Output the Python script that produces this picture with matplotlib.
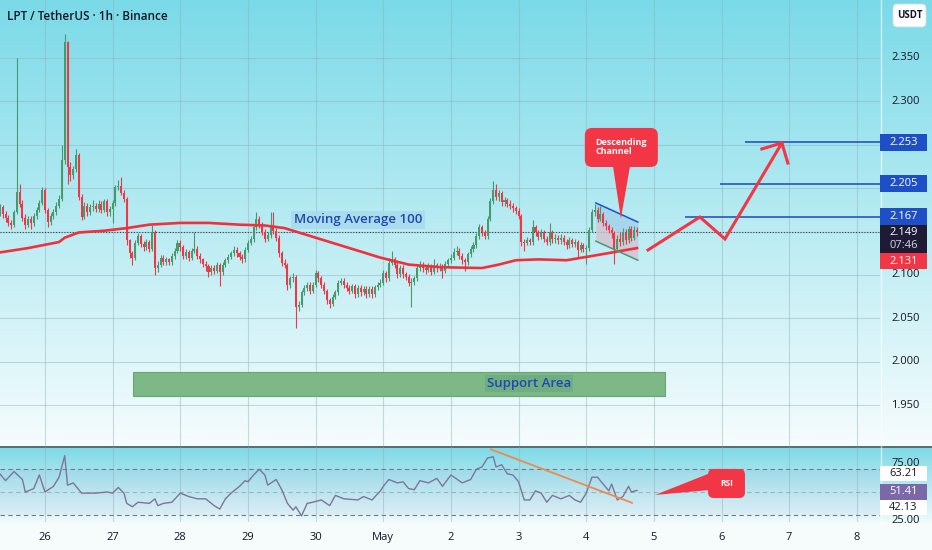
import numpy as np
import matplotlib.pyplot as plt
from matplotlib.patches import Rectangle, FancyBboxPatch, Polygon

plt.rcParams['font.family'] = ['Open Sans', 'DejaVu Sans']

# ---------- DATA (hourly candles, hour 0 = 25 Apr 08:00) ----------
first_open = 2.172
closes = [
    2.178, 2.170, 2.166, 2.160, 2.158, 2.172, 2.196, 2.182, 2.166, 2.158,
    2.165, 2.160, 2.168, 2.175, 2.183, 2.198, 2.175, 2.161, 2.168, 2.172,
    2.180, 2.188, 2.232, 2.368, 2.224, 2.215, 2.222, 2.238, 2.190, 2.167,
    2.180, 2.172, 2.178, 2.180, 2.176, 2.182, 2.175, 2.185, 2.172, 2.176,
    2.183, 2.201, 2.203, 2.195, 2.188, 2.140, 2.125, 2.120, 2.137, 2.145,
    2.136, 2.132, 2.138, 2.130, 2.150, 2.108, 2.112, 2.120, 2.115, 2.118,
    2.115, 2.122, 2.128, 2.137, 2.132, 2.122, 2.127, 2.120, 2.128, 2.130,
    2.122, 2.118, 2.113, 2.110, 2.103, 2.108, 2.105, 2.112, 2.103, 2.112,
    2.117, 2.121, 2.125, 2.129, 2.125, 2.121, 2.118, 2.129, 2.137, 2.141,
    2.155, 2.165, 2.158, 2.150, 2.142, 2.146, 2.158, 2.151, 2.143, 2.125,
    2.114, 2.112, 2.088, 2.096, 2.098, 2.063, 2.066, 2.080, 2.085, 2.089,
    2.082, 2.089, 2.102, 2.096, 2.089, 2.082, 2.071, 2.067, 2.075, 2.080,
    2.091, 2.093, 2.089, 2.085, 2.082, 2.087, 2.078, 2.085, 2.080, 2.084,
    2.078, 2.084, 2.078, 2.086, 2.089, 2.091, 2.102, 2.096, 2.114, 2.118,
    2.112, 2.101, 2.108, 2.101, 2.098, 2.091, 2.092, 2.096, 2.108, 2.112,
    2.108, 2.106, 2.110, 2.104, 2.111, 2.108, 2.110, 2.105, 2.113, 2.117,
    2.120, 2.127, 2.128, 2.122, 2.117, 2.115, 2.124, 2.130, 2.134, 2.145,
    2.155, 2.149, 2.145, 2.165, 2.185, 2.198, 2.190, 2.194, 2.184, 2.186,
    2.182, 2.180, 2.177, 2.174, 2.168, 2.138, 2.137, 2.140, 2.138, 2.155,
    2.149, 2.144, 2.149, 2.142, 2.138, 2.150, 2.141, 2.143, 2.140, 2.143,
    2.138, 2.134, 2.140, 2.136, 2.138, 2.129, 2.134, 2.130, 2.131, 2.152,
    2.172, 2.175, 2.165, 2.170, 2.160, 2.156, 2.152, 2.148, 2.130, 2.142,
    2.138, 2.150, 2.140, 2.153, 2.143, 2.152, 2.149,
]
highs = [
    2.182, 2.181, 2.174, 2.169, 2.163, 2.175, 2.350, 2.205, 2.186, 2.170,
    2.168, 2.168, 2.171, 2.178, 2.186, 2.201, 2.200, 2.177, 2.171, 2.176,
    2.184, 2.192, 2.250, 2.378, 2.370, 2.230, 2.226, 2.245, 2.240, 2.193,
    2.184, 2.183, 2.182, 2.186, 2.183, 2.186, 2.185, 2.188, 2.187, 2.180,
    2.186, 2.204, 2.210, 2.213, 2.198, 2.190, 2.142, 2.128, 2.140, 2.148,
    2.147, 2.139, 2.141, 2.140, 2.158, 2.152, 2.116, 2.123, 2.123, 2.121,
    2.120, 2.125, 2.131, 2.140, 2.140, 2.134, 2.130, 2.129, 2.131, 2.150,
    2.133, 2.125, 2.120, 2.116, 2.113, 2.111, 2.111, 2.115, 2.114, 2.115,
    2.120, 2.124, 2.128, 2.133, 2.132, 2.128, 2.124, 2.132, 2.140, 2.145,
    2.158, 2.172, 2.168, 2.161, 2.153, 2.150, 2.172, 2.172, 2.154, 2.146,
    2.128, 2.118, 2.114, 2.099, 2.102, 2.100, 2.070, 2.083, 2.088, 2.092,
    2.092, 2.092, 2.106, 2.105, 2.099, 2.092, 2.084, 2.074, 2.078, 2.083,
    2.094, 2.097, 2.096, 2.092, 2.088, 2.090, 2.090, 2.088, 2.088, 2.087,
    2.087, 2.087, 2.087, 2.089, 2.092, 2.095, 2.106, 2.105, 2.120, 2.128,
    2.121, 2.115, 2.111, 2.111, 2.104, 2.101, 2.096, 2.099, 2.111, 2.116,
    2.115, 2.112, 2.114, 2.113, 2.118, 2.114, 2.114, 2.113, 2.116, 2.120,
    2.124, 2.131, 2.133, 2.131, 2.125, 2.120, 2.127, 2.133, 2.138, 2.148,
    2.159, 2.158, 2.152, 2.168, 2.189, 2.208, 2.205, 2.198, 2.197, 2.190,
    2.189, 2.186, 2.183, 2.180, 2.177, 2.170, 2.142, 2.144, 2.143, 2.163,
    2.158, 2.152, 2.153, 2.152, 2.145, 2.160, 2.152, 2.147, 2.146, 2.147,
    2.146, 2.141, 2.144, 2.143, 2.142, 2.140, 2.138, 2.137, 2.135, 2.155,
    2.176, 2.182, 2.178, 2.180, 2.173, 2.163, 2.159, 2.155, 2.151, 2.146,
    2.150, 2.154, 2.153, 2.157, 2.156, 2.156, 2.155,
]
lows = [
    2.168, 2.166, 2.161, 2.156, 2.153, 2.155, 2.170, 2.178, 2.162, 2.153,
    2.155, 2.153, 2.157, 2.165, 2.172, 2.181, 2.171, 2.155, 2.158, 2.165,
    2.169, 2.177, 2.185, 2.228, 2.205, 2.208, 2.211, 2.219, 2.186, 2.163,
    2.164, 2.168, 2.169, 2.174, 2.172, 2.173, 2.171, 2.172, 2.168, 2.168,
    2.160, 2.180, 2.198, 2.192, 2.184, 2.135, 2.120, 2.112, 2.117, 2.134,
    2.132, 2.128, 2.129, 2.127, 2.128, 2.100, 2.104, 2.109, 2.111, 2.112,
    2.111, 2.112, 2.119, 2.125, 2.128, 2.118, 2.119, 2.116, 2.117, 2.125,
    2.118, 2.114, 2.109, 2.105, 2.098, 2.100, 2.101, 2.102, 2.087, 2.100,
    2.109, 2.114, 2.118, 2.122, 2.121, 2.117, 2.114, 2.115, 2.126, 2.134,
    2.138, 2.152, 2.154, 2.146, 2.138, 2.139, 2.143, 2.147, 2.139, 2.121,
    2.110, 2.108, 2.083, 2.085, 2.092, 2.039, 2.058, 2.063, 2.077, 2.082,
    2.078, 2.079, 2.086, 2.092, 2.085, 2.078, 2.067, 2.062, 2.064, 2.072,
    2.077, 2.088, 2.085, 2.081, 2.078, 2.079, 2.074, 2.075, 2.076, 2.077,
    2.074, 2.075, 2.074, 2.075, 2.083, 2.086, 2.088, 2.092, 2.093, 2.111,
    2.108, 2.097, 2.098, 2.097, 2.094, 2.087, 2.063, 2.089, 2.093, 2.105,
    2.104, 2.101, 2.103, 2.100, 2.101, 2.104, 2.105, 2.097, 2.102, 2.110,
    2.114, 2.117, 2.123, 2.118, 2.113, 2.105, 2.112, 2.121, 2.127, 2.131,
    2.142, 2.145, 2.141, 2.142, 2.162, 2.182, 2.186, 2.185, 2.180, 2.180,
    2.178, 2.176, 2.173, 2.170, 2.164, 2.133, 2.128, 2.134, 2.134, 2.135,
    2.145, 2.140, 2.141, 2.138, 2.134, 2.135, 2.137, 2.137, 2.136, 2.136,
    2.134, 2.130, 2.131, 2.132, 2.132, 2.120, 2.126, 2.126, 2.113, 2.128,
    2.149, 2.168, 2.161, 2.162, 2.156, 2.152, 2.148, 2.143, 2.113, 2.127,
    2.133, 2.134, 2.136, 2.137, 2.139, 2.140, 2.145,
]

# moving average 100
ma_hours = [0, 10, 21, 23, 28, 37, 45, 53, 64, 74, 85, 94, 101, 106, 113,
            121, 127, 135, 145, 156, 171, 177, 183, 191, 201, 212, 219, 226]
ma_values = [2.126, 2.131, 2.138, 2.143, 2.149, 2.151, 2.154, 2.158, 2.160,
             2.160, 2.158, 2.157, 2.154, 2.149, 2.142, 2.134, 2.128, 2.120,
             2.112, 2.109, 2.108, 2.112, 2.117, 2.118, 2.117, 2.123, 2.127, 2.131]

# RSI
rsi_hours = [0, 2, 5, 8, 9, 12, 14, 16, 19, 21, 23, 24, 26, 29, 34, 38, 40,
             42, 44, 45, 47, 49, 53, 55, 56, 58, 61, 64, 67, 70, 73, 76, 78,
             80, 82, 85, 87, 88, 90, 92, 94, 95, 98, 100, 102, 104, 105, 107,
             109, 111, 114, 117, 119, 122, 127, 129, 132, 135, 136, 138, 141,
             143, 145, 147, 149, 152, 155, 157, 160, 164, 167, 169, 171, 173,
             175, 176, 178, 180, 182, 184, 186, 188, 190, 192, 194, 196, 199,
             202, 204, 206, 208, 210, 212, 214, 216, 217, 219, 221, 223, 224, 226]
rsi_values = [66, 60, 68, 61, 50, 53, 65, 50, 55, 63, 82, 56, 58, 49, 49, 50,
              49, 54, 49, 40, 37, 41, 40, 44, 38, 40, 41, 49, 46, 44, 44, 38,
              35, 44, 49, 55, 60, 59, 65, 70, 65, 56, 61, 52, 40, 34, 37, 29,
              40, 41, 43, 38, 47, 44, 43, 46, 43, 51, 55, 61, 58, 59, 53, 52,
              60, 58, 62, 55, 65, 58, 61, 70, 72, 80, 81, 72, 74, 66, 65, 59,
              43, 43, 51, 49, 41, 47, 44, 47, 43, 41, 49, 63, 63, 57, 51, 57,
              43, 46, 55, 50, 51.41]

day_ticks = [16, 40, 64, 88, 112, 136, 160, 184, 208, 232, 256, 280, 304]
day_labels = ['26', '27', '28', '29', '30', 'May', '2', '3', '4', '5', '6', '7', '8']
price_grid = [1.95, 2.00, 2.05, 2.10, 2.15, 2.20, 2.25, 2.30, 2.35]
price_labels = [1.95, 2.00, 2.05, 2.10, 2.30, 2.35]

last_price = 2.149
last_ma = 2.131
countdown = '07:46'
targets = [2.167, 2.205, 2.253]
target_from = [243.0, 255.4, 264.3]

support_lo, support_hi = 1.961, 1.988
support_from, support_to = 47.2, 235.9

channel_t = [211.4, 226.3]
channel_top = [2.183, 2.161]
channel_bot = [2.139, 2.117]

arrow_t = [229.9, 248.3, 257.2, 277.4]
arrow_p = [2.1288, 2.1668, 2.1415, 2.2521]
head_t = [270.3, 277.4, 279.5]
head_p = [2.2452, 2.2521, 2.2290]

rsi_trend_t = [174.2, 224.2]
rsi_trend_v = [87.5, 40.5]
rsi_tags = [63.21, 51.41, 42.13]

# ---------- STYLE ----------
GREEN = '#479a6d'
RED = '#f23645'
BLUE = '#1f4fc6'
TXT = '#131722'
GRID = '#8fb0ba'

W, H = 932, 550
XMIN, XMAX = 0.04, 312.2
YMIN, YMAX = 1.903, 2.4168
RMIN, RMAX = 23.6, 89.6


def frac(x0, y0, x1, y1):
    return [x0 / W, 1 - y1 / H, (x1 - x0) / W, (y1 - y0) / H]


fig = plt.figure(figsize=(W / 100, H / 100), dpi=100)

# background gradients
bg = fig.add_axes([0, 0, 1, 1])
bg.axis('off')
img = np.ones((H, 1, 3))
top_c, bot_c = np.array([0.48, 0.855, 0.91]), np.array([0.965, 0.99, 0.993])
img[:446, 0, :] = top_c + (bot_c - top_c) * np.linspace(0, 1, 446)[:, None]
rtop, rbot = np.array([0.49, 0.85, 0.905]), np.array([0.93, 0.98, 0.985])
img[446:522, 0, :] = rtop + (rbot - rtop) * np.linspace(0, 1, 76)[:, None]
img[522:, 0, :] = [0.965, 0.988, 0.992]
bg.imshow(img, extent=(0, W, H, 0), aspect='auto', interpolation='bilinear')
bg.set_xlim(0, W)
bg.set_ylim(H, 0)
bg.plot([0, W], [446.5, 446.5], color='#555a66', lw=1.2)
bg.plot([880.5, 880.5], [0, 522], color='white', lw=1, alpha=0.6)

ax = fig.add_axes(frac(0, 0, 880, 446))
pax = fig.add_axes(frac(880, 0, 932, 446))
rax = fig.add_axes(frac(0, 447, 880, 522))
rpax = fig.add_axes(frac(880, 447, 932, 522))
for a in (ax, pax, rax, rpax):
    a.set_facecolor('none')
    for s in a.spines.values():
        s.set_visible(False)
    a.tick_params(length=0)

ax.set_xlim(XMIN, XMAX)
ax.set_ylim(YMIN, YMAX)
ax.set_xticks([])
ax.set_yticks([])
pax.set_xlim(0, 1)
pax.set_ylim(YMIN, YMAX)
pax.set_xticks([])
pax.set_yticks([])
rax.set_xlim(XMIN, XMAX)
rax.set_ylim(RMIN, RMAX)
rax.set_yticks([])
rax.set_xticks(day_ticks, day_labels)
rax.tick_params(axis='x', pad=7, labelsize=8, labelcolor=TXT)
rpax.set_xlim(0, 1)
rpax.set_ylim(RMIN, RMAX)
rpax.set_xticks([])
rpax.set_yticks([])

# grid
for t in day_ticks:
    ax.axvline(t, color=GRID, lw=0.8, alpha=0.45, zorder=0)
    rax.axvline(t, color=GRID, lw=0.8, alpha=0.45, zorder=0)
for p in price_grid:
    ax.axhline(p, color=GRID, lw=0.8, alpha=0.45, zorder=0)

# ---------- CANDLES ----------
hours = np.arange(len(closes))
opens = np.array([first_open] + closes[:-1])
c = np.array(closes)
up = c >= opens
colors = np.where(up, GREEN, RED)
ax.vlines(hours, lows, highs, colors=colors, lw=0.8, zorder=3)
body_lo = np.minimum(opens, c)
body_h = np.maximum(np.abs(c - opens), 0.0012)
ax.bar(hours, body_h, bottom=body_lo, width=0.72, color=colors, lw=0, zorder=3)

# moving average
ax.plot(ma_hours, ma_values, color='#f0303c', lw=1.9, zorder=4)
ax.text(127.0, 2.1634, 'Moving Average 100', ha='center', va='center',
        fontsize=9.5, fontweight='semibold', color='#2446b0', zorder=6,
        bbox=dict(boxstyle='square,pad=0.22', fc='#a6dbee', ec='none', alpha=0.85))

# current price line
ax.axhline(last_price, color='#3a3d46', lw=0.8, ls=(0, (1, 1.5)), zorder=2)

# support area
ax.add_patch(Rectangle((support_from, support_lo), support_to - support_from,
                       support_hi - support_lo, fc='#7db886', ec='#68a676',
                       lw=0.8, zorder=2))
ax.text(187.7, (support_lo + support_hi) / 2, 'Support Area', ha='center',
        va='center', fontsize=9.5, fontweight='semibold', color='#2446b5', zorder=3,
        bbox=dict(boxstyle='square,pad=0.15', fc='#6fae80', ec='none'))

# descending channel
mid = [(a + b) / 2 for a, b in zip(channel_top, channel_bot)]
ax.fill_between(channel_t, channel_top, mid, color='#9fd0ea', alpha=0.75, lw=0, zorder=2)
ax.fill_between(channel_t, mid, channel_bot, color='#d4c2cf', alpha=0.8, lw=0, zorder=2)
ax.plot(channel_t, channel_top, color='#1f4fd0', lw=1.1, zorder=5)
ax.plot(channel_t, channel_bot, color='#4c9a70', lw=1.1, zorder=5)

# target levels
for t0, p in zip(target_from, targets):
    ax.hlines(p, t0, XMAX, color='#1d47b8', lw=1.1, zorder=4)

# projected path
ax.plot(arrow_t, arrow_p, color=RED, lw=2.2, solid_joinstyle='miter', zorder=6)
ax.plot(head_t, head_p, color=RED, lw=2.2, solid_joinstyle='miter', zorder=6)

# callout: Descending Channel
asp_main = (1 / 868) / (1 / 2.8194)
ax.add_patch(FancyBboxPatch((207.5, 2.2244), 25.9, 0.045,
                            boxstyle='round,pad=0,rounding_size=2.6',
                            mutation_aspect=asp_main, fc=RED, ec='none', zorder=7))
ax.add_patch(Polygon([(217.5, 2.2250), (223.5, 2.2250), (220.3, 2.1650)],
                     closed=True, fc=RED, ec='none', zorder=7))
ax.text(211.2, 2.2475, 'Descending\nChannel', ha='left', va='center',
        fontsize=6.5, fontweight='bold', color='white', linespacing=1.05, zorder=8)

# title
ax.text(0.008, 0.964, 'LPT / TetherUS · 1h · Binance', transform=ax.transAxes,
        ha='left', va='center', fontsize=8.5, fontweight='semibold', color=TXT)

# ---------- PRICE SCALE ----------
for p in price_labels:
    pax.text(0.49, p, f'{p:.3f}', ha='center', va='center', fontsize=8, color=TXT)


def tag(a, yc, h, text, fc, tc):
    a.add_patch(Rectangle((0, yc - h / 2), 0.9, h, fc=fc, ec='none', clip_on=False))
    a.text(0.45, yc, text, ha='center', va='center', fontsize=8, color=tc)


px = 1 / 868
tag(pax, targets[2], 17 * px, f'{targets[2]:.3f}', BLUE, 'white')
tag(pax, targets[1], 17 * px, f'{targets[1]:.3f}', BLUE, 'white')
tag(pax, 2.1673, 17 * px, f'{targets[0]:.3f}', BLUE, 'white')
pax.add_patch(Rectangle((0, 2.1415 - 14 * px), 0.9, 28 * px, fc='#1e1b36', ec='none'))
pax.text(0.45, 2.1415 + 6.5 * px, f'{last_price:.3f}', ha='center', va='center',
         fontsize=8, color='white')
pax.text(0.45, 2.1415 - 7 * px, countdown, ha='center', va='center',
         fontsize=8, color='#d6d6e0')
tag(pax, 2.1161, 16 * px, f'{last_ma:.3f}', RED, 'white')

pax.add_patch(FancyBboxPatch((0.25, 0.9395), 0.635, 0.0515, transform=pax.transAxes,
                             boxstyle='round,pad=0,rounding_size=0.08',
                             mutation_aspect=52 / 446, fc='white', ec='#d0dde2',
                             lw=0.6, clip_on=False))
pax.text(0.567, 0.965, 'USDT', transform=pax.transAxes, ha='center', va='center',
         fontsize=7, fontweight='bold', color=TXT)

# ---------- RSI PANE ----------
rax.axhspan(30, 70, color='#8a7fc2', alpha=0.07, lw=0, zorder=0)
rax.axhline(70, color='#787b86', lw=0.8, ls=(0, (4, 3)), zorder=1)
rax.axhline(30, color='#787b86', lw=0.8, ls=(0, (4, 3)), zorder=1)
rax.axhline(50, color='#787b86', lw=0.8, ls=(0, (4, 3)), alpha=0.45, zorder=1)
rax.plot(rsi_hours, rsi_values, color='#7f7499', lw=1.0, zorder=3)
rax.plot(rsi_trend_t, rsi_trend_v, color='#ee8a4f', lw=1.3, zorder=4)

asp_rsi = (1 / 1.135) / (1 / 2.8194)
rax.add_patch(FancyBboxPatch((251.2, 44.7), 13.1, 25.6,
                             boxstyle='round,pad=0,rounding_size=2.0',
                             mutation_aspect=asp_rsi, fc=RED, ec='none', zorder=6))
rax.add_patch(Polygon([(232.4, 47.4), (252.0, 66.7), (252.0, 51.8)],
                      closed=True, fc=RED, ec='none', zorder=6))
rax.text(257.7, 57.9, 'RSI', ha='center', va='center', fontsize=6,
         fontweight='bold', color='white', zorder=7)

rpx = 1 / 1.135
rpax.text(0.49, 75, '75.00', ha='center', va='center', fontsize=8, color=TXT)
rpax.text(0.49, 25.2, '25.00', ha='center', va='center', fontsize=8, color=TXT)
tag(rpax, 65.9, 15 * rpx, f'{rsi_tags[0]:.2f}', 'white', TXT)
tag(rpax, 50.0, 16 * rpx, f'{rsi_tags[1]:.2f}', '#7a68a8', 'white')
tag(rpax, 36.3, 15 * rpx, f'{rsi_tags[2]:.2f}', 'white', TXT)

fig.savefig('out.png', dpi=100)
